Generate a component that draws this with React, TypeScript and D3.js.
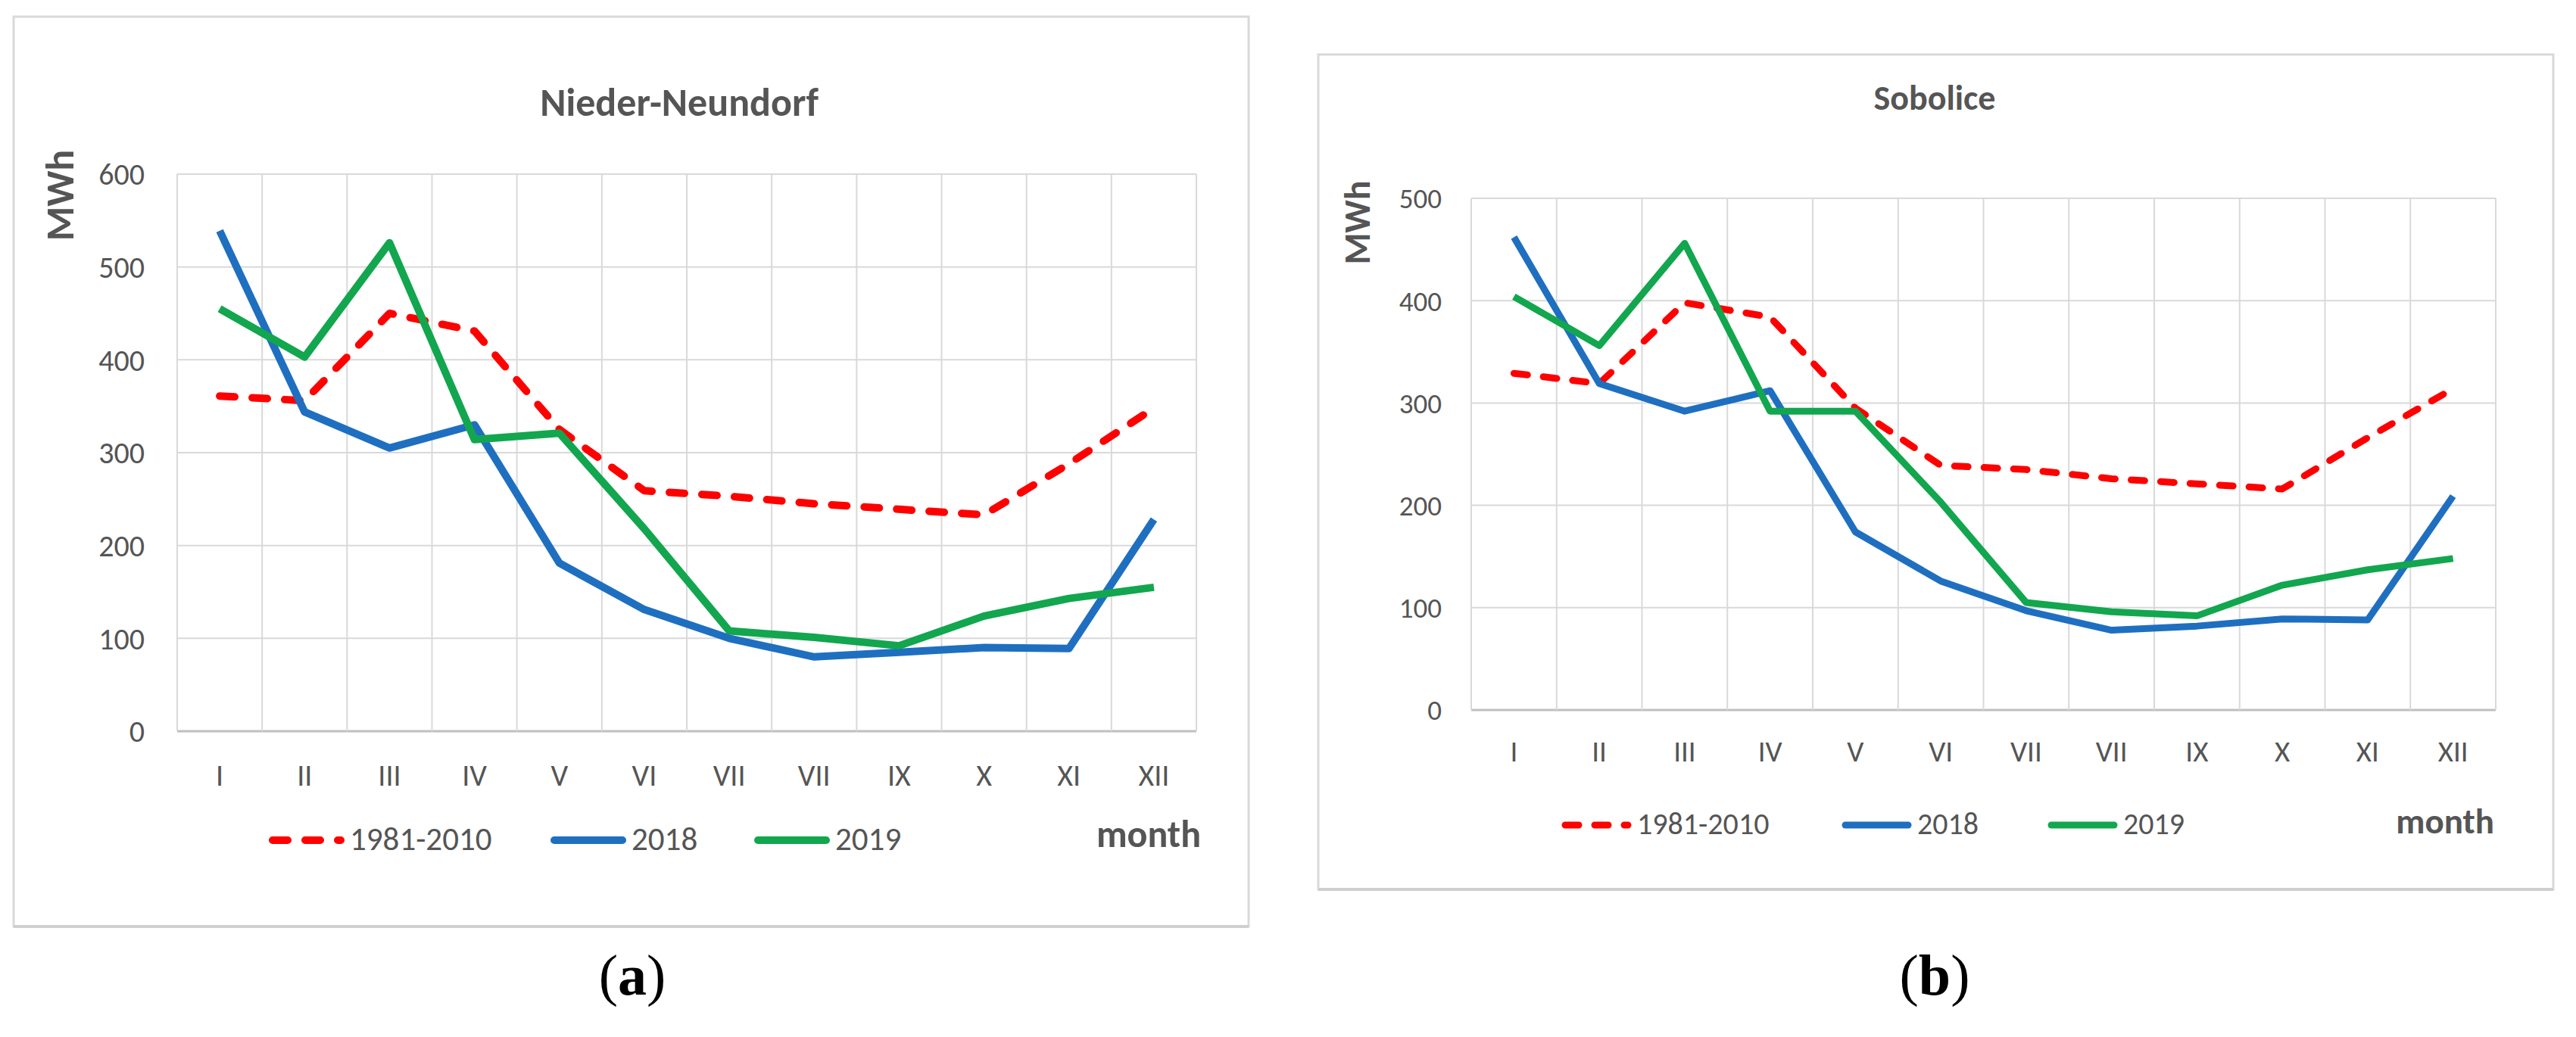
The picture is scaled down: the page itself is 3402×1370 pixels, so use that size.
import React, { useEffect, useRef } from "react";
import * as d3 from "d3";

// month labels as printed (the 8th one really reads "VII" in the source)
const months = ["I", "II", "III", "IV", "V", "VI", "VII", "VII", "IX", "X", "XI", "XII"];
const seriesNames = ["1981-2010", "2018", "2019"];
const seriesColors = ["#ff0000", "#1f6fc0", "#12a64f"];

// (a) Nieder-Neundorf
const nnTicks = [0, 100, 200, 300, 400, 500, 600];
const nnNorm = [361, 356, 450, 431, 325, 259, 253, 245, 239, 233, 288, 348];
const nn2018 = [539, 344, 305, 330, 181, 131, 100, 80, 85, 90, 89, 228];
const nn2019 = [455, 403, 526, 314, 321, 218, 108, 101, 92, 124, 143, 155];

// (b) Sobolice
const sbTicks = [0, 100, 200, 300, 400, 500];
const sbNorm = [329, 319, 398, 384, 295, 239, 235, 226, 221, 216, 266, 314];
const sb2018 = [462, 319, 292, 312, 174, 126, 97, 78, 82, 89, 88, 209];
const sb2019 = [404, 356, 456, 292, 292, 203, 105, 96, 92, 122, 137, 148];

const FONT = "Carlito, Calibri, Lato, sans-serif";
const TEXT = "#555555";

interface PanelLayout {
  frame: [number, number, number, number];
  plot: { left: number; top: number; right: number; bottom: number };
  title: { x: number; y: number; size: number };
  unit: { x: number; y: number; size: number };
  tickX: number;
  tickSize: number;
  monthY: number;
  monthSize: number;
  legendY: number;
  legendTextY: number;
  legendStarts: number[];
  legendLen: number;
  legendSize: number;
  dash: string;
  lineWidth: number;
  axisLabel: { x: number; y: number; size: number };
  caption: { x: number; text: string };
}

const layoutA: PanelLayout = {
  frame: [18, 22, 1631, 1202],
  plot: { left: 234, top: 230, right: 1580, bottom: 966 },
  title: { x: 897, y: 153, size: 52 },
  unit: { x: 97, y: 258, size: 52 },
  tickX: 191,
  tickSize: 40,
  monthY: 1038,
  monthSize: 40,
  legendY: 1110,
  legendTextY: 1123,
  legendStarts: [360, 732, 1001],
  legendLen: 90,
  legendSize: 43,
  dash: "20 23",
  lineWidth: 10,
  axisLabel: { x: 1586, y: 1119, size: 50 },
  caption: { x: 835, text: "a" },
};

const layoutB: PanelLayout = {
  frame: [1741, 72, 1631, 1103],
  plot: { left: 1943, top: 262, right: 3296, bottom: 938 },
  title: { x: 2555, y: 145, size: 46 },
  unit: { x: 1809, y: 294, size: 48 },
  tickX: 1904,
  tickSize: 37,
  monthY: 1006,
  monthSize: 39,
  legendY: 1090,
  legendTextY: 1102,
  legendStarts: [2067, 2437, 2709],
  legendLen: 83,
  legendSize: 40,
  dash: "18 21",
  lineWidth: 9,
  axisLabel: { x: 3294, y: 1101, size: 47 },
  caption: { x: 2555, text: "b" },
};

const drawPanel = (
  root: d3.Selection<SVGSVGElement, unknown, null, undefined>,
  L: PanelLayout,
  title: string,
  ticks: number[],
  series: number[][]
) => {
  const g = root.append("g");
  const [fx, fy, fw, fh] = L.frame;

  // chart area frame
  g.append("rect")
    .attr("x", fx)
    .attr("y", fy)
    .attr("width", fw)
    .attr("height", fh)
    .attr("fill", "#ffffff")
    .attr("stroke", "#d9d9d9")
    .attr("stroke-width", 3);
  g.append("line")
    .attr("x1", fx)
    .attr("x2", fx + fw)
    .attr("y1", fy + fh)
    .attr("y2", fy + fh)
    .attr("stroke", "#cfcfcf")
    .attr("stroke-width", 4);

  const x = d3
    .scaleBand<number>()
    .domain(d3.range(months.length))
    .range([L.plot.left, L.plot.right])
    .padding(0);
  const y = d3
    .scaleLinear()
    .domain([0, ticks[ticks.length - 1]])
    .range([L.plot.bottom, L.plot.top]);
  const cx = (i: number) => (x(i) as number) + x.bandwidth() / 2;

  // horizontal gridlines
  g.append("g")
    .selectAll("line")
    .data(ticks)
    .enter()
    .append("line")
    .attr("x1", L.plot.left)
    .attr("x2", L.plot.right)
    .attr("y1", (d) => y(d))
    .attr("y2", (d) => y(d))
    .attr("stroke", (d) => (d === 0 ? "#bfbfbf" : "#d9d9d9"))
    .attr("stroke-width", (d) => (d === 0 ? 3 : 2));

  // vertical gridlines on category edges
  const edges = d3.range(months.length + 1).map((i) =>
    i < months.length ? (x(i) as number) : L.plot.right
  );
  g.append("g")
    .selectAll("line")
    .data(edges)
    .enter()
    .append("line")
    .attr("x1", (d) => d)
    .attr("x2", (d) => d)
    .attr("y1", L.plot.top)
    .attr("y2", L.plot.bottom)
    .attr("stroke", "#d9d9d9")
    .attr("stroke-width", 2);

  // y tick labels
  g.append("g")
    .selectAll("text")
    .data(ticks)
    .enter()
    .append("text")
    .attr("x", L.tickX)
    .attr("y", (d) => y(d))
    .attr("dy", "0.36em")
    .attr("text-anchor", "end")
    .style("font-family", FONT)
    .style("font-size", `${L.tickSize}px`)
    .style("fill", TEXT)
    .text((d) => d);

  // month labels
  g.append("g")
    .selectAll("text")
    .data(months)
    .enter()
    .append("text")
    .attr("x", (_d, i) => cx(i))
    .attr("y", L.monthY)
    .attr("text-anchor", "middle")
    .style("font-family", FONT)
    .style("font-size", `${L.monthSize}px`)
    .style("fill", TEXT)
    .text((d) => d);

  // title
  g.append("text")
    .attr("x", L.title.x)
    .attr("y", L.title.y)
    .attr("text-anchor", "middle")
    .style("font-family", FONT)
    .style("font-weight", "bold")
    .style("font-size", `${L.title.size}px`)
    .style("fill", TEXT)
    .text(title);

  // y unit
  g.append("text")
    .attr("transform", `translate(${L.unit.x},${L.unit.y}) rotate(-90)`)
    .attr("text-anchor", "middle")
    .style("font-family", FONT)
    .style("font-weight", "bold")
    .style("font-size", `${L.unit.size}px`)
    .style("fill", TEXT)
    .text("MWh");

  // lines
  const line = d3
    .line<number>()
    .x((_d, i) => cx(i))
    .y((d) => y(d));

  series.forEach((values, s) => {
    g.append("path")
      .datum(values)
      .attr("d", line)
      .attr("fill", "none")
      .attr("stroke", seriesColors[s])
      .attr("stroke-width", L.lineWidth)
      .attr("stroke-linejoin", "round")
      .attr("stroke-linecap", s === 0 ? "round" : "butt")
      .attr("stroke-dasharray", s === 0 ? L.dash : null);
  });

  // legend
  seriesNames.forEach((name, s) => {
    const x0 = L.legendStarts[s];
    g.append("line")
      .attr("x1", x0)
      .attr("x2", x0 + L.legendLen)
      .attr("y1", L.legendY)
      .attr("y2", L.legendY)
      .attr("stroke", seriesColors[s])
      .attr("stroke-width", L.lineWidth)
      .attr("stroke-linecap", "round")
      .attr("stroke-dasharray", s === 0 ? L.dash : null);
    g.append("text")
      .attr("x", x0 + L.legendLen + 12)
      .attr("y", L.legendTextY)
      .style("font-family", FONT)
      .style("font-size", `${L.legendSize}px`)
      .style("fill", TEXT)
      .text(name);
  });

  g.append("text")
    .attr("x", L.axisLabel.x)
    .attr("y", L.axisLabel.y)
    .attr("text-anchor", "end")
    .style("font-family", FONT)
    .style("font-weight", "bold")
    .style("font-size", `${L.axisLabel.size}px`)
    .style("fill", TEXT)
    .text("month");

  // panel caption (a) / (b)
  const cap = g
    .append("text")
    .attr("x", L.caption.x)
    .attr("y", 1314)
    .attr("text-anchor", "middle")
    .style("font-family", "'Liberation Serif', 'Times New Roman', serif")
    .style("font-size", "76px")
    .style("fill", "#000000");
  cap.append("tspan").text("(");
  cap.append("tspan").style("font-weight", "bold").text(L.caption.text);
  cap.append("tspan").text(")");
};

export default function App() {
  const ref = useRef<SVGSVGElement>(null);

  useEffect(() => {
    document.body.style.margin = "0";
    const svg = d3.select(ref.current as SVGSVGElement);
    svg.selectAll("*").remove();
    drawPanel(svg, layoutA, "Nieder-Neundorf", nnTicks, [nnNorm, nn2018, nn2019]);
    drawPanel(svg, layoutB, "Sobolice", sbTicks, [sbNorm, sb2018, sb2019]);
  }, []);

  return (
    <svg
      ref={ref}
      width={3402}
      height={1370}
      style={{ display: "block", background: "#ffffff" }}
    />
  );
}
